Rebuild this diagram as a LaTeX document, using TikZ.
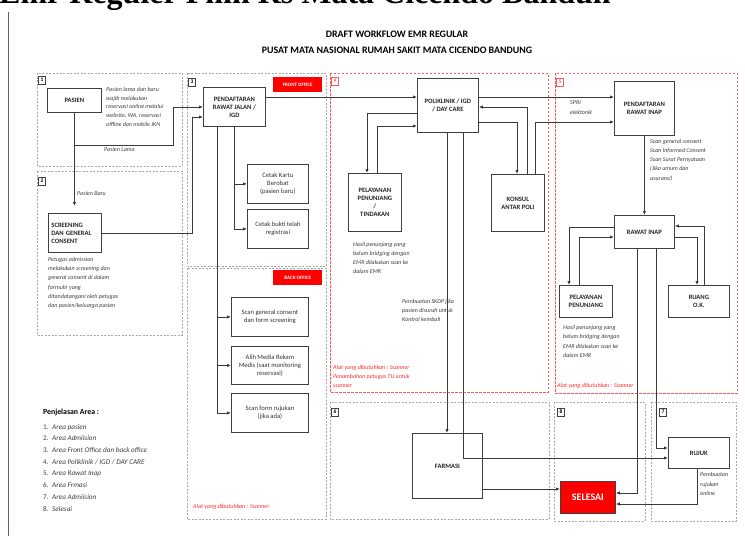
\documentclass[tikz,border=0pt]{standalone}
\usepackage{fontspec}
\setmainfont{Carlito}
\newfontfamily\bigserif{Liberation Serif}
\usetikzlibrary{arrows.meta}
\definecolor{boxc}{HTML}{404040}
\definecolor{linec}{HTML}{3A3A3A}
\definecolor{areag}{HTML}{A8A8A8}
\definecolor{arear}{HTML}{FF5A5A}
\definecolor{redfill}{HTML}{FF0000}
\definecolor{notec}{HTML}{3C3C3C}
\definecolor{rednote}{HTML}{FF2A2A}
\definecolor{sidec}{HTML}{5A6470}
\begin{document}
\begin{tikzpicture}[x=1pt,y=-1pt,
  box/.style={draw=boxc, line width=0.8pt, fill=white, align=center, font=\fontsize{6.6}{8}\selectfont\bfseries, text=black!85, inner sep=1pt, anchor=north west},
  pbox/.style={box, font=\fontsize{6.6}{8}\selectfont, text=black!80},
  ln/.style={draw=linec, line width=0.8pt},
  arr/.style={ln, -{Latex[length=4pt,width=3.4pt]}},
  areabox/.style={draw=areag, line width=0.6pt, dash pattern=on 2pt off 1.5pt},
  areared/.style={draw=arear, line width=0.8pt, dash pattern=on 2.5pt off 1.5pt},
  note/.style={anchor=north west, inner sep=0, align=left, text=notec},
  rnote/.style={note, text=rednote},
  num/.style={draw=boxc, line width=0.5pt, inner sep=0.5pt, minimum width=7, minimum height=8, font=\fontsize{5.5}{6}\selectfont\bfseries},
  numr/.style={num, draw=arear, text=arear},
  tagbox/.style={fill=redfill, text=white, font=\fontsize{5}{6}\selectfont\bfseries, minimum width=49, minimum height=15, anchor=north west, inner sep=0}
]
\useasboundingbox (0,0) rectangle (745,536);
\clip (0,0) rectangle (745,536);

% cut-off heading and side line
\node[anchor=base west, inner sep=0, font=\bigserif\bfseries\fontsize{32}{32}\selectfont] (bigtitle) at (-1,3) {Emr Reguler Pmn Rs Mata Cicendo Bandun};
\draw[draw=sidec, line width=0.8pt] (8,12) -- (8,536);

% titles
\node[font=\fontsize{9.9}{11}\selectfont\bfseries] (t1) at (397,34) {DRAFT WORKFLOW EMR REGULAR};
\node[font=\fontsize{9.9}{11}\selectfont\bfseries] (t2) at (397,50) {PUSAT MATA NASIONAL RUMAH SAKIT MATA CICENDO BANDUNG};

% areas
\draw[areabox] (37,73) rectangle (182,166);
\draw[areabox] (37,171) rectangle (182,335);
\draw[areabox] (187,73) rectangle (326,266);
\draw[areabox] (187,268) rectangle (326,519);
\draw[areared] (330,73) rectangle (548,392);
\draw[areared] (555,73) rectangle (737,393);
\draw[areabox] (330,402) rectangle (549,519);
\draw[areabox] (554,402) rectangle (645,521);
\draw[areabox] (651,402) rectangle (736,521);

\node[num] (n1) at (42,80) {1};
\node[num] (n2) at (42,181) {2};
\node[num] (n3) at (192,82) {3};
\node[numr] (n4) at (335,81) {4};
\node[numr] (n5) at (560,82) {5};
\node[num] (n6) at (335,412) {6};
\node[num] (n8) at (561,412) {8};
\node[num] (n7) at (663,412) {7};

\node[tagbox] (fo) at (273,77) {FRONT OFFICE};
\node[tagbox] (bo) at (273,270) {BACK OFFICE};

% nodes
\node[box, minimum width=54, minimum height=24] (pasien) at (47,88) {PASIEN};
\node[box, minimum width=53, minimum height=39, align=left, text width=47, inner xsep=3] (screen) at (48,213) {SCREENING\\DAN GENERAL\\CONSENT};
\node[box, minimum width=62, minimum height=39] (pend) at (203,87) {PENDAFTARAN\\RAWAT JALAN /\\IGD};
\node[pbox, minimum width=61, minimum height=39] (cetak1) at (247,164) {Cetak Kartu\\Berobat\\(pasien baru)};
\node[pbox, minimum width=61, minimum height=39] (cetak2) at (247,209) {Cetak bukti telah\\registrasi};
\node[pbox, minimum width=77, minimum height=39] (scan1) at (231,297) {Scan general consent\\dan form screening};
\node[pbox, minimum width=77, minimum height=38] (alih) at (231,346) {Alih Media Rekam\\Medis (saat monitoring\\reservasi)};
\node[pbox, minimum width=77, minimum height=39] (scanf) at (231,393) {Scan form rujukan\\(jika ada)};
\node[box, minimum width=61, minimum height=54] (poli) at (417,78) {POLIKLINIK / IGD\\/ DAY CARE};
\node[box, minimum width=53, minimum height=58] (pel1) at (348,173) {PELAYANAN\\PENUNJANG\\/\\TINDAKAN};
\node[box, minimum width=53, minimum height=57] (konsul) at (491,174) {KONSUL\\ANTAR POLI};
\node[box, minimum width=60, minimum height=54] (pri) at (614,81) {PENDAFTARAN\\RAWAT INAP};
\node[box, minimum width=60, minimum height=33] (ranap) at (614,215) {RAWAT INAP};
\node[box, minimum width=53, minimum height=32] (pel2) at (559,285) {PELAYANAN\\PENUNJANG};
\node[box, minimum width=61, minimum height=32] (ruang) at (668,285) {RUANG\\O.K.};
\node[box, minimum width=70, minimum height=65] (farmasi) at (412,433) {FARMASI};
\node[box, draw=boxc, fill=redfill, text=white, font=\fontsize{10}{11}\selectfont\bfseries, minimum width=55, minimum height=32] (selesai) at (560,481) {SELESAI};
\node[box, minimum width=61, minimum height=31] (rujuk) at (668,437) {RUJUK};

% notes
\node[note, font=\fontsize{6}{8.7}\selectfont\itshape] (nt1) at (106,87) {Pasien lama dan baru\\wajib melakukan\\reservasi online melalui\\website, WA, reservasi\\offline dan mobile JKN};
\node[note, font=\fontsize{6}{8.7}\selectfont\itshape] (nt2) at (104,147) {Pasien Lama};
\node[note, font=\fontsize{6}{8.7}\selectfont\itshape] (nt3) at (77,191) {Pasien Baru};
\node[note, font=\fontsize{6}{9.3}\selectfont\itshape] (nt4) at (48,257) {Petugas admission\\melakukan screening dan\\general consent di dalam\\formulir yang\\ditandatangani oleh petugas\\dan pasien/keluarga pasien};
\node[rnote, font=\fontsize{6}{9}\selectfont\itshape] (nt5) at (193,504) {Alat yang dibutuhkan : Scanner};
\node[note, font=\fontsize{6}{9}\selectfont\itshape] (nt6) at (353,242) {Hasil penunjang yang\\belum bridging dengan\\EMR dilakukan scan ke\\dalam EMR};
\node[note, font=\fontsize{6}{9}\selectfont\itshape] (nt7) at (402,299) {Pembuatan SKDP jika\\pasien disuruh untuk\\Kontrol kembali};
\node[rnote, font=\fontsize{6}{9}\selectfont\itshape] (nt8) at (333,365) {Alat yang dibutuhkan : Scanner\\Penambahan petugas TU untuk\\scanner};
\node[note, font=\fontsize{6}{10}\selectfont\itshape] (nt9) at (570,100) {SPRI\\elektonik};
\node[note, font=\fontsize{6}{9.2}\selectfont\itshape] (nt10) at (650,139) {Scan general consent\\Scan Informed Consent\\Scan Surat Pernyataan\\(Jika umum dan\\asuransi)};
\node[note, font=\fontsize{6}{9.5}\selectfont\itshape] (nt11) at (563,325) {Hasil penunjang yang\\belum bridging dengan\\EMR dilakukan scan ke\\dalam EMR};
\node[rnote, font=\fontsize{6}{9}\selectfont\itshape] (nt12) at (557,383) {Alat yang dibutuhkan : Scanner};
\node[note, font=\fontsize{6}{9.8}\selectfont\itshape] (nt13) at (700,472) {Pembuatan\\rujukan\\online};

% legend
\node[note, text=black, font=\fontsize{7.8}{9}\selectfont\bfseries] (lg0) at (43,409) {Penjelasan Area :};
\node[note, font=\fontsize{7.2}{11.7}\selectfont] (lg1) at (43,424) {%
\makebox[9pt][l]{1.}\textit{Area pasien}\\
\makebox[9pt][l]{2.}\textit{Area Admiision}\\
\makebox[9pt][l]{3.}\textit{Area Front Office dan back office}\\
\makebox[9pt][l]{4.}\textit{Area Poliklinik / IGD / DAY CARE}\\
\makebox[9pt][l]{5.}\textit{Area Rawat Inap}\\
\makebox[9pt][l]{6.}\textit{Area Frmasi}\\
\makebox[9pt][l]{7.}\textit{Area Admiision}\\
\makebox[9pt][l]{8.}\textit{Selesai}};

% connectors
\coordinate (c1) at (74,145);
\coordinate (c2) at (173,107);
\coordinate (c3) at (192,117);
\coordinate (c4) at (0,97);
\coordinate (c5) at (234,0);
\coordinate (c6) at (217,0);
\coordinate (c7) at (367,113);
\coordinate (c8) at (377,126);
\coordinate (c9) at (517,122);
\coordinate (c10) at (527,107);
\coordinate (c11) at (535,122);
\coordinate (c13) at (569,227);
\coordinate (c14) at (579,237);
\coordinate (c15) at (697,237);
\coordinate (c16) at (704,226);
\coordinate (c17) at (637,493);
\coordinate (c18) at (656,448);
\coordinate (c19) at (447,0);
\coordinate (c20) at (463,458);
\coordinate (c21) at (0,489);
\coordinate (c22) at (697,504);

\draw[arr, shorten >=7pt] (pasien.south) -- (pasien.south |- screen.north);
\draw[arr] (c1) -| (c2) -- (pend.west |- c2);
\draw[arr] (screen.east) -| (c3) -- (pend.west |- c3);
\draw[arr] (pend.east |- c4) -- (poli.west |- c4);
\draw[arr] (poli.east |- c4) -- (pri.west |- c4);

\draw[ln] (pend.south -| c5) -- (c5 |- cetak2.west);
\draw[arr] (c5 |- cetak1.west) -- (cetak1.west);
\draw[arr] (c5 |- cetak2.west) -- (cetak2.west);

\draw[ln] (pend.south -| c6) -- (c6 |- scanf.west);
\draw[arr] (c6 |- scan1.west) -- (scan1.west);
\draw[arr] (c6 |- alih.west) -- (alih.west);
\draw[arr] (c6 |- scanf.west) -- (scanf.west);

\draw[arr] (poli.west |- c7) -| (pel1.north -| c7);
\draw[arr] (pel1.north -| c8) |- (poli.west |- c8);
\draw[arr] (poli.east |- c9) -| (konsul.north -| c9);
\draw[arr] (konsul.north -| c10) |- (poli.east |- c10);
\draw[arr] (konsul.north -| c11) |- (pri.west |- c11);

\draw[arr] (pri.south) -- (ranap.north);
\draw[arr] (ranap.west |- c13) -| (pel2.north -| c13);
\draw[arr] (pel2.north -| c14) |- (ranap.west |- c14);
\draw[arr] (ranap.east |- c15) -| (ruang.north -| c15);
\draw[arr] (ruang.north -| c16) |- (ranap.east |- c16);

\draw[arr] (ranap.south -| c17) |- (selesai.east |- c17);
\draw[arr] (ranap.south -| c18) |- (rujuk.west |- c18);
\draw[arr] (poli.south -| c19) -- (farmasi.north -| c19);
\draw[arr] (poli.south -| c20) |- (rujuk.west |- c20);
\draw[arr] (farmasi.east |- c21) -- (selesai.west |- c21);
\draw[arr] (rujuk.south -| c22) |- (selesai.east |- c22);
\end{tikzpicture}
\end{document}
